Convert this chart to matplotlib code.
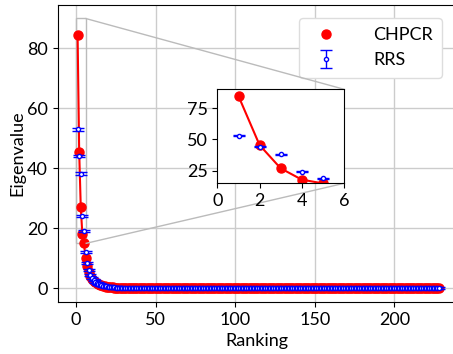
import numpy as np
import matplotlib.pyplot as plt
from mpl_toolkits.axes_grid1.inset_locator import mark_inset

plt.rcParams['font.family'] = ['Lato', 'DejaVu Sans']
plt.rcParams['font.size'] = 13

chpcr_head = [84.5, 45.5, 27.0, 18.0, 15.0, 10.0, 7.5, 5.6, 4.2, 3.3,
              2.6, 2.1, 1.7, 1.4, 1.2, 1.0, 0.85, 0.72, 0.62, 0.53,
              0.46, 0.40, 0.35, 0.31, 0.27, 0.24, 0.21, 0.19, 0.17, 0.15]
chpcr_tail = [0.1] * 198

# RRS eigenvalues with small spread
rrs_head = [53.0, 44.2, 38.3, 24.2, 19.1, 12.2, 8.4, 6.2, 4.5, 3.5,
            2.8, 2.3, 1.9, 1.6, 1.35, 1.15, 0.98, 0.84, 0.72, 0.62,
            0.54, 0.47, 0.41, 0.36, 0.32, 0.28, 0.25, 0.22, 0.19, 0.17]
rrs_tail = [0.1] * 198
rrs_err = 0.4

chpcr = np.array(chpcr_head + chpcr_tail)
rrs = np.array(rrs_head + rrs_tail)
ranking = np.arange(1, len(chpcr) + 1)

fig = plt.figure(figsize=(4.53, 3.54), dpi=100)
ax = fig.add_axes([0.127, 0.147, 0.882, 0.839])

ax.plot(ranking, chpcr, color='red', lw=1.5, zorder=2)
ax.plot(ranking, chpcr, 'o', color='red', ms=6.5, label='CHPCR', zorder=2)
ax.errorbar(ranking, rrs, yerr=rrs_err, fmt='o', color='blue', mfc='white',
            ms=3, mew=1, capsize=4, elinewidth=1, label='RRS', zorder=3)

ax.set_xlim(-11.6, 239.4)
ax.set_ylim(-4.5, 94.5)
ax.set_xticks([0, 50, 100, 150, 200])
ax.set_yticks([0, 20, 40, 60, 80])
ax.grid(True, color='#cccccc', lw=1)
ax.set_axisbelow(True)
ax.set_xlabel('Ranking')
ax.set_ylabel('Eigenvalue', labelpad=1)
ax.legend(loc='upper right', bbox_to_anchor=(0.985, 0.985), framealpha=1,
          edgecolor='#dddddd', handletextpad=1.6, borderpad=0.5)

# zoomed inset
axins = fig.add_axes([0.48, 0.482, 0.279, 0.266])
axins.plot(ranking, chpcr, color='red', lw=1.5, zorder=2)
axins.plot(ranking, chpcr, 'o', color='red', ms=6.5, zorder=2)
axins.errorbar(ranking, rrs, yerr=rrs_err, fmt='o', color='blue', mfc='white',
               ms=3, mew=1, capsize=4, elinewidth=1, zorder=3)
axins.set_xlim(0, 6)
axins.set_ylim(15, 90)
axins.set_xticks([0, 2, 4, 6])
axins.set_yticks([25, 50, 75])

mark_inset(ax, axins, loc1=1, loc2=4, fc='none', ec='#bbbbbb', lw=1)

fig.savefig('out.png', dpi=100)
